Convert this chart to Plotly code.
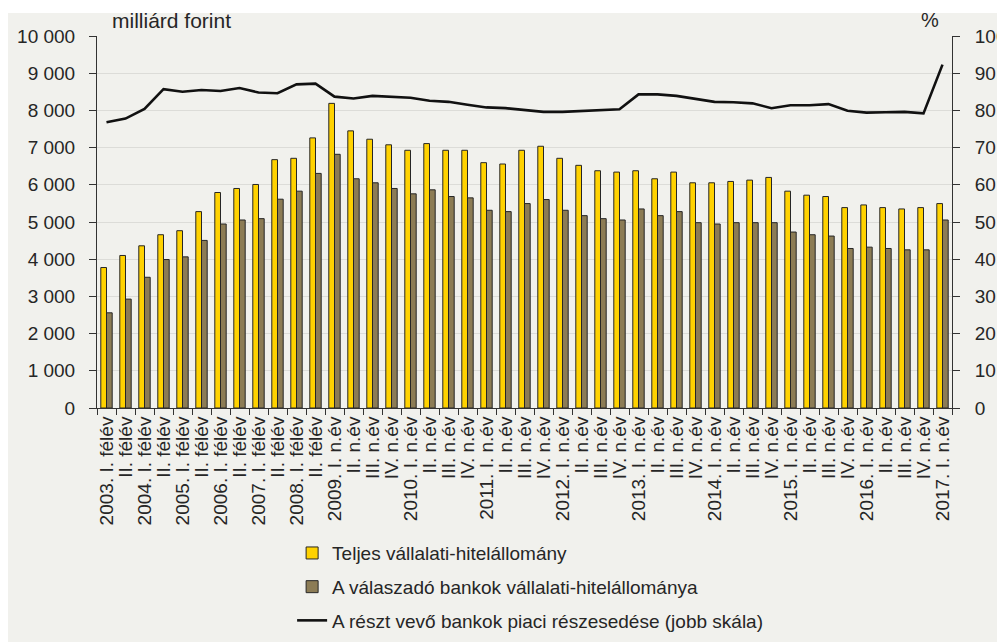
import plotly.graph_objects as go

# ---- data ----
periods = [
    "2003. I. félév", "II. félév", "2004. I. félév", "II. félév",
    "2005. I. félév", "II. félév", "2006. I. félév", "II. félév",
    "2007. I. félév", "II. félév", "2008. I. félév", "II. félév",
    "2009. I. n.év", "II. n.év", "III. n.év", "IV. n.év",
    "2010. I. n.év", "II. n.év", "III. n.év", "IV. n.év",
    "2011. I. n.év", "II. n.év", "III. n.év", "IV. n.év",
    "2012. I. n.év", "II. n.év", "III. n.év", "IV. n.év",
    "2013. I. n.év", "II. n.év", "III. n.év", "IV. n.év",
    "2014. I. n.év", "II. n.év", "III. n.év", "IV. n.év",
    "2015. I. n.év", "II. n.év", "III. n.év", "IV. n.év",
    "2016. I. n.év", "II. n.év", "III. n.év", "IV. n.év",
    "2017. I. n.év",
]

total_loans = [3776, 4100, 4360, 4658, 4766, 5279, 5793, 5901, 6009, 6676, 6712, 7261,
               8189, 7450, 7225, 7075, 6928, 7108, 6928, 6928, 6595, 6559, 6928, 7036,
               6712, 6523, 6378, 6342, 6378, 6162, 6342, 6054, 6054, 6090, 6126, 6198,
               5829, 5721, 5685, 5387, 5459, 5387, 5351, 5387, 5495]

respondent_loans = [2559, 2927, 3514, 3991, 4063, 4505, 4946, 5054, 5090, 5613, 5829, 6306,
                    6820, 6162, 6054, 5901, 5757, 5865, 5685, 5649, 5315, 5279, 5495, 5604,
                    5315, 5171, 5090, 5054, 5351, 5171, 5279, 4982, 4946, 4982, 4982, 4982,
                    4730, 4658, 4622, 4288, 4324, 4288, 4252, 4252, 5054]

market_share = [76.8, 77.8, 80.4, 85.7, 85.0, 85.5, 85.2, 86.0, 84.8, 84.6, 87.0, 87.2,
                83.7, 83.2, 83.9, 83.7, 83.4, 82.6, 82.3, 81.5, 80.8, 80.6, 80.0, 79.6,
                79.6, 79.8, 80.1, 80.3, 84.3, 84.3, 83.9, 83.2, 82.3, 82.2, 81.9, 80.6,
                81.4, 81.4, 81.7, 79.9, 79.4, 79.5, 79.6, 79.2, 92.3]

names = ["Teljes vállalati-hitelállomány",
         "A válaszadó bankok vállalati-hitelállománya",
         "A részt vevő bankok piaci részesedése (jobb skála)"]

x = list(range(len(periods)))

FONT = "Liberation Sans, Arial, sans-serif"
TXT = "#262626"
BG = "#f1f1ed"

fig = go.Figure()
fig.add_trace(go.Bar(x=x, y=total_loans, name=names[0], legendgroup="a",
                     marker=dict(color="#ffd200", line=dict(color="#262626", width=1))))
fig.add_trace(go.Bar(x=x, y=respondent_loans, name=names[1], legendgroup="b",
                     marker=dict(color="#8c7c55", line=dict(color="#262626", width=1))))
fig.add_trace(go.Scatter(x=x, y=market_share, name=names[2], legendgroup="c",
                         mode="lines", yaxis="y2",
                         line=dict(color="#111111", width=2.6)))

fig.update_layout(
    width=1005, height=642,
    margin=dict(l=89, r=61, t=28, b=242, autoexpand=False),
    paper_bgcolor=BG, plot_bgcolor=BG,
    separators=", ",
    font=dict(family=FONT, color=TXT, size=18),
    barmode="group", bargap=0.4, bargroupgap=0,
    showlegend=True,
    legend=dict(x=0.2282, xanchor="left", y=-0.339, yanchor="top",
                font=dict(size=19, color=TXT), bgcolor="rgba(0,0,0,0)",
                tracegroupgap=6, traceorder="grouped"),
    xaxis=dict(
        range=[-0.5, len(periods) - 0.5],
        tickmode="array", tickvals=x, ticktext=periods,
        tickangle=-90, ticks="", showgrid=False, automargin=False,
        showline=True, linecolor="#333333", linewidth=1,
        tickfont=dict(size=19, color=TXT),
        minor=dict(ticks="outside", tick0=-0.5, dtick=1, ticklen=6,
                   tickcolor="#333333", showgrid=False),
        zeroline=False,
    ),
    yaxis=dict(
        range=[0, 10000], dtick=1000, tickformat=",d", automargin=False,
        showline=True, linecolor="#333333", linewidth=1,
        ticks="outside", ticklen=7, tickcolor="#333333",
        gridcolor="#dcdcd8", gridwidth=1, zeroline=False,
        tickfont=dict(size=19, color=TXT), ticklabelstandoff=10,
    ),
    yaxis2=dict(
        range=[0, 100], dtick=10, overlaying="y", side="right", automargin=False,
        showline=True, linecolor="#333333", linewidth=1,
        ticks="outside", ticklen=7, tickcolor="#333333",
        showgrid=False, zeroline=False,
        tickfont=dict(size=19, color=TXT), ticklabelstandoff=11,
    ),
    annotations=[
        dict(text="milliárd forint", xref="paper", yref="paper", x=0.0152, y=1.043,
             xanchor="left", yanchor="middle", showarrow=False,
             font=dict(size=21, color=TXT, family=FONT)),
        dict(text="%", xref="paper", yref="paper", x=0.974, y=1.043,
             xanchor="center", yanchor="middle", showarrow=False,
             font=dict(size=20, color=TXT, family=FONT)),
    ],
    shapes=[
        dict(type="rect", xref="paper", yref="paper", x0=-0.12, x1=1.1, y0=1.0618, y1=1.08,
             fillcolor="white", line=dict(width=0), layer="below"),
    ],
)

fig.write_html("out.html")
